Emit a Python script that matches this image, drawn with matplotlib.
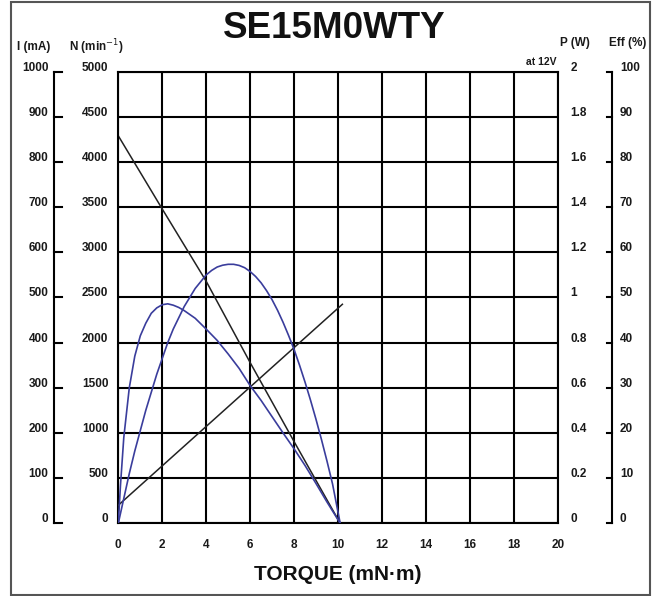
import matplotlib
matplotlib.use('Agg')
import matplotlib.pyplot as plt
import matplotlib.transforms as mtrans
from matplotlib.patches import Rectangle

# values
torque_ticks = list(range(0, 21, 2))
speed_ticks = list(range(0, 5001, 500))
current_ticks = list(range(0, 1001, 100))
power_ticks = [0, 0.2, 0.4, 0.6, 0.8, 1.0, 1.2, 1.4, 1.6, 1.8, 2.0]
power_labels = ['0', '0.2', '0.4', '0.6', '0.8', '1', '1.2', '1.4', '1.6', '1.8', '2']
eff_ticks = list(range(0, 101, 10))

speed_torque = [0, 2, 4, 6, 8, 10.1]
speed_rpm = [4290, 3480, 2680, 1780, 905, 0]

current_torque = [0, 10.2]
current_ma = [40, 485]

power_torque = [0, 0.25, 0.5, 0.75, 1, 1.25, 1.5, 1.75, 2, 2.25, 2.5, 2.75, 3,
                3.25, 3.5, 3.75, 4, 4.25, 4.5, 4.75, 5, 5.25, 5.5, 5.75, 6,
                6.25, 6.5, 6.75, 7, 7.25, 7.5, 7.75, 8, 8.25, 8.5, 8.75, 9,
                9.25, 9.5, 9.75, 10.1]
power_w = [0, 0.11, 0.22, 0.32, 0.41, 0.50, 0.58, 0.66, 0.73, 0.80, 0.86, 0.91,
           0.96, 1.00, 1.04, 1.07, 1.10, 1.12, 1.135, 1.143, 1.147, 1.147,
           1.142, 1.132, 1.115, 1.093, 1.065, 1.03, 0.99, 0.943, 0.89, 0.832,
           0.77, 0.70, 0.625, 0.545, 0.46, 0.37, 0.275, 0.175, 0]

eff_torque = [0, 0.1, 0.25, 0.5, 0.75, 1, 1.25, 1.5, 1.75, 2, 2.25, 2.5, 2.75,
              3, 3.5, 4, 4.5, 5, 5.5, 6, 6.5, 7, 7.5, 8, 8.5, 9, 9.5, 10.1]
eff_pct = [0, 8.5, 19, 30, 37, 41.5, 44.3, 46.5, 47.7, 48.4, 48.6, 48.3, 47.8,
           47.1, 45.4, 43, 40.5, 37.5, 34.3, 30.5, 27.2, 23.6, 20, 16.5, 12.8,
           8.8, 4.7, 0]

W, H = 658, 596
BLUE = '#3a3d9c'
TXT = '#1a1a1a'
plt.rcParams['font.family'] = ['Liberation Sans', 'DejaVu Sans']

fig = plt.figure(figsize=(W / 100, H / 100), dpi=100)


def px(x, y):  # figure pixel (from top-left) -> figure fraction
    return x / W, 1 - y / H


# outer frame
fig.add_artist(Rectangle(px(11, 594.5), 638.5 / W, 593 / H, transform=fig.transFigure,
                         fill=False, ec='#555555', lw=1.5))

ax = fig.add_axes([118.3 / W, (H - 523.3) / H, 439.4 / W, 451.6 / H])
ax.set_xlim(0, 20)
ax.set_ylim(0, 5000)
ax.set_xticks(torque_ticks)
ax.set_yticks(speed_ticks)
ax.set_yticklabels([])
ax.grid(True, color='black', lw=1.5)
ax.set_axisbelow(True)
for s in ax.spines.values():
    s.set_color('black')
    s.set_linewidth(1.5)
ax.tick_params(axis='both', length=0)
ax.tick_params(axis='x', pad=11, labelsize=8.5, labelcolor=TXT)
for lab in ax.get_xticklabels():
    lab.set_fontweight('bold')

ax_i = ax.twinx()
ax_i.set_ylim(0, 1000)
ax_p = ax.twinx()
ax_p.set_ylim(0, 2)
ax_e = ax.twinx()
ax_e.set_ylim(0, 100)
for a in (ax_i, ax_p, ax_e):
    a.axis('off')

# curves
ax.plot(speed_torque, speed_rpm, color='#222222', lw=1.1)
ax_i.plot(current_torque, current_ma, color='#222222', lw=1.1)
ax_p.plot(power_torque, power_w, color=BLUE, lw=1.2)
ax_e.plot(eff_torque, eff_pct, color=BLUE, lw=1.2)

up = mtrans.ScaledTranslation(0, 0.04, fig.dpi_scale_trans)


def column(target, values, labels, x_px, ha):
    tr = mtrans.blended_transform_factory(mtrans.IdentityTransform(), target.transData) + up
    for v, s in zip(values, labels):
        fig.text(x_px, v, s, transform=tr, ha=ha, va='center', fontsize=8.5,
                 fontweight='bold', color=TXT)


def bracket(target, values, x_spine, x_tick):
    tr = mtrans.blended_transform_factory(mtrans.IdentityTransform(), target.transData)
    kw = dict(transform=tr, color='black', lw=1.5, clip_on=False)
    fig.add_artist(plt.Line2D([x_spine, x_spine], [values[0], values[-1]], **kw))
    for v in values:
        fig.add_artist(plt.Line2D([x_spine, x_tick], [v, v], **kw))


column(ax_i, current_ticks, [str(v) for v in current_ticks], 48.3, 'right')
column(ax, speed_ticks, [str(v) for v in speed_ticks], 108.3, 'right')
column(ax_p, power_ticks, power_labels, 570.7, 'left')
column(ax_e, eff_ticks, [str(v) for v in eff_ticks], 620, 'left')
bracket(ax_i, current_ticks, 54.3, 62)
bracket(ax_e, eff_ticks, 612.3, 606.7)

# headers and titles
hdr = dict(fontsize=8.5, fontweight='bold', color=TXT, va='center')
fig.text(*px(17, 47), 'I (mA)', ha='left', **hdr)
fig.text(*px(69, 47), r'N (min$^{-1}$)', ha='left', **hdr)
fig.text(*px(560, 43), 'P (W)', ha='left', **hdr)
fig.text(*px(646, 43), 'Eff (%)', ha='right', **hdr)
fig.text(*px(557, 62), 'at 12V', ha='right', fontsize=7.5, fontweight='bold',
         color=TXT, va='center')
fig.text(*px(334, 38), 'SE15M0WTY', ha='center', va='baseline', fontsize=26.5,
         fontweight='bold', color='#111111')
fig.text(*px(338, 574), 'TORQUE (mN\u00b7m)', ha='center', va='center', fontsize=15,
         fontweight='bold', color='#111111')

fig.savefig('out.png', dpi=100)
